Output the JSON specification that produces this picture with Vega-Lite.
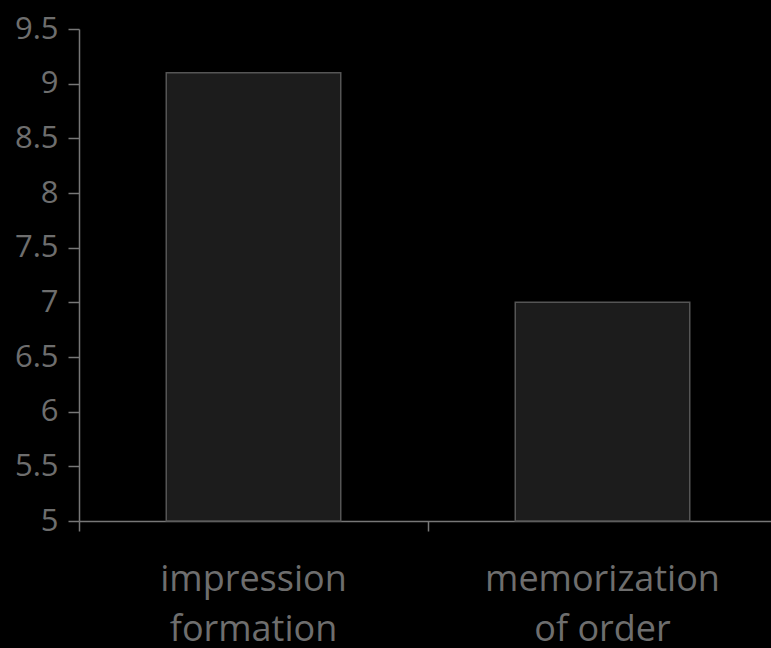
{
  "$schema": "https://vega.github.io/schema/vega-lite/v6.json",
  "width": 698,
  "height": 492,
  "autosize": {"type": "none"},
  "padding": {"left": 79, "top": 29, "right": 0, "bottom": 127},
  "background": "#000000",
  "config": {"view": {"stroke": null}},
  "data": {"values": [
    {"task": "impression formation", "score": 9.1},
    {"task": "memorization of order", "score": 7.0}
  ]},
  "mark": {"type": "bar", "fill": "#1c1c1c", "stroke": "#555555", "strokeWidth": 1.5, "width": {"band": 0.5}},
  "encoding": {
    "x": {
      "field": "task", "type": "nominal",
      "scale": {"paddingInner": 0, "paddingOuter": 0},
      "axis": {
        "title": null, "labelAngle": 0, "bandPosition": 0,
        "labelExpr": "[slice(datum.value,0,indexof(datum.value,' ')), slice(datum.value,indexof(datum.value,' ')+1)]",
        "labelFont": "Open Sans", "labelFontSize": 36, "labelColor": "#6e6e6e",
        "labelLineHeight": 50, "labelPadding": 31, "labelLimit": 400,
        "domainColor": "#777777", "domainWidth": 1.5,
        "tickColor": "#777777", "tickSize": 10, "tickWidth": 1.5
      }
    },
    "y": {
      "field": "score", "type": "quantitative",
      "scale": {"domain": [5, 9.5], "zero": false, "nice": false},
      "axis": {
        "title": null, "values": [5, 5.5, 6, 6.5, 7, 7.5, 8, 8.5, 9, 9.5], "format": ".1~f",
        "grid": false, "labelFont": "Open Sans", "labelFontSize": 31, "labelColor": "#6e6e6e",
        "labelPadding": 10, "tickSize": 11, "tickColor": "#777777", "tickWidth": 1.5,
        "domainColor": "#777777", "domainWidth": 1.5
      }
    },
    "y2": {"datum": 5}
  }
}
